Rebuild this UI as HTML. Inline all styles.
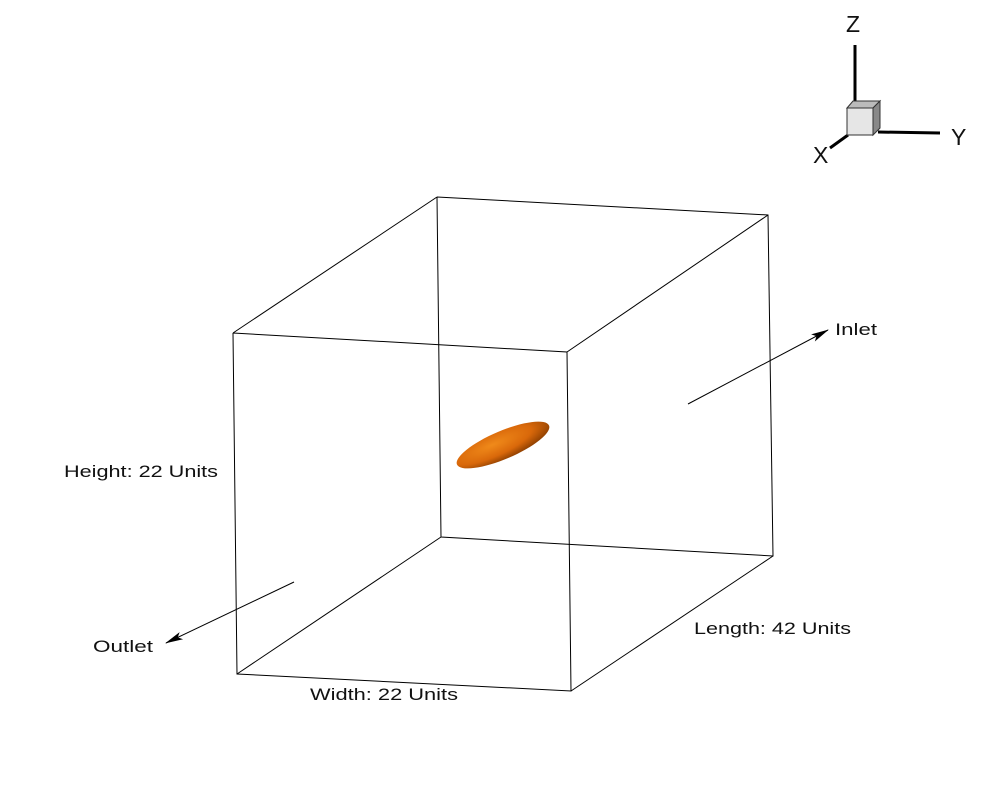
<!DOCTYPE html>
<html><head><meta charset="utf-8"><style>
html,body{margin:0;padding:0;background:#fff}
svg{display:block}
text{font-family:"Liberation Sans",sans-serif;font-size:17px;fill:#111}
text.ax{font-size:23px}
</style></head><body>
<svg width="1005" height="806" viewBox="0 0 1005 806">
<defs>
<radialGradient id="eg" cx="0.4" cy="0.35" r="0.7">
<stop offset="0" stop-color="#f08a1a"/><stop offset="0.6" stop-color="#d9680a"/><stop offset="1" stop-color="#8a3d00"/>
</radialGradient>
<marker id="ah" markerWidth="18" markerHeight="10" refX="17" refY="5" orient="auto" markerUnits="userSpaceOnUse">
<path d="M0,1 L18,5 L0,9 L4,5 Z" fill="#000"/></marker>
</defs>
<g stroke="#000" stroke-width="1" fill="none">
<polyline points="437,197 768,215 773,556 441,537 437,197"/>
<polyline points="233,333 567,352 571,691 237,674 233,333"/>
<line x1="437" y1="197" x2="233" y2="333"/>
<line x1="768" y1="215" x2="567" y2="352"/>
<line x1="773" y1="556" x2="571" y2="691"/>
<line x1="441" y1="537" x2="237" y2="674"/>
</g>
<ellipse cx="503" cy="445" rx="50" ry="14" transform="rotate(-23 503 445)" fill="url(#eg)"/>
<line x1="688" y1="404" x2="828" y2="330" stroke="#000" stroke-width="1" marker-end="url(#ah)"/>
<line x1="294" y1="582" x2="166" y2="643" stroke="#000" stroke-width="1" marker-end="url(#ah)"/>
<text x="835" y="335" textLength="42" lengthAdjust="spacingAndGlyphs">Inlet</text>
<text x="93" y="652" textLength="60" lengthAdjust="spacingAndGlyphs">Outlet</text>
<text x="64" y="477" textLength="154" lengthAdjust="spacingAndGlyphs">Height: 22 Units</text>
<text x="310" y="700" textLength="148" lengthAdjust="spacingAndGlyphs">Width: 22 Units</text>
<text x="694" y="634" textLength="157" lengthAdjust="spacingAndGlyphs">Length: 42 Units</text>
<g>
<line x1="855" y1="45" x2="855" y2="103" stroke="#000" stroke-width="3"/>
<line x1="878" y1="132" x2="940" y2="133" stroke="#000" stroke-width="3"/>
<line x1="848" y1="135" x2="830" y2="148" stroke="#000" stroke-width="3"/>
<polygon points="847,108 853,101 880,101 873,108" fill="#bbb" stroke="#333" stroke-width="1"/>
<polygon points="873,108 880,101 880,128 873,135" fill="#888" stroke="#333" stroke-width="1"/>
<rect x="847" y="108" width="26" height="27" fill="#e6e6e6" stroke="#333" stroke-width="1"/>
<text class="ax" x="846" y="32">Z</text>
<text class="ax" x="951" y="145">Y</text>
<text class="ax" x="813" y="163">X</text>
</g>
</svg>
</body></html>
